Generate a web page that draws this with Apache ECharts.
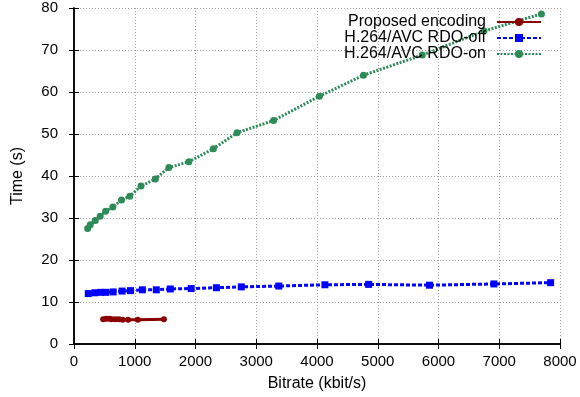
<!DOCTYPE html>
<html>
<head>
<meta charset="utf-8">
<script src="https://cdn.jsdelivr.net/npm/echarts@6/dist/echarts.min.js"></script>
<style>
  html, body { margin: 0; padding: 0; background: #fff; }
  #chart { width: 580px; height: 397px; }
</style>
</head>
<body>
<div id="chart"></div>
<script>
// Proposed encoding
const proposedX = [480, 530, 580, 620, 680, 740, 800, 890, 1050, 1480];
const proposedY = [5.9, 6.0, 6.0, 5.9, 5.9, 5.9, 5.8, 5.8, 5.8, 5.9];
// H.264/AVC RDO-off
const rdoOffX = [235, 344, 437, 524, 645, 792, 929, 1125, 1355, 1585, 1929, 2344, 2754, 3371, 4130, 4850, 5852, 6912, 7846];
const rdoOffY = [12.0, 12.2, 12.3, 12.3, 12.4, 12.6, 12.7, 12.9, 12.9, 13.1, 13.2, 13.4, 13.6, 13.8, 14.1, 14.2, 14.0, 14.3, 14.6];
// H.264/AVC RDO-on
const rdoOnX = [225, 267, 349, 431, 520, 639, 782, 918, 1103, 1339, 1562, 1890, 2295, 2683, 3285, 4040, 4765, 5732, 6749, 7694];
const rdoOnY = [27.5, 28.4, 29.4, 30.4, 31.6, 32.6, 34.3, 35.2, 37.6, 39.3, 42.0, 43.4, 46.5, 50.3, 53.2, 59.0, 64.0, 68.8, 74.5, 78.6];

const xTicks = { min: 0, max: 8000, step: 1000 };
const yTicks = { min: 0, max: 80, step: 10 };

const pairs = (xs, ys) => xs.map((x, i) => [x, ys[i]]);
const font = "Liberation Sans, Arial, sans-serif";

const chart = echarts.init(document.getElementById("chart"));
const gridLine = { show: true, lineStyle: { color: "#a0a0a0", type: [1, 2], width: 1 } };
const tickIn = { show: true, inside: true, length: 5, lineStyle: { color: "#000" } };

chart.setOption({
  animation: false,
  grid: { left: 74, right: 20, top: 8, bottom: 50 },
  legend: {
    right: 33,
    top: 9,
    orient: "vertical",
    align: "right",
    itemWidth: 44,
    itemHeight: 10,
    itemGap: 0,
    textStyle: { fontFamily: font, fontSize: 16, color: "#000", padding: [0, 6, 0, 0] },
    data: ["Proposed encoding", "H.264/AVC RDO-off", "H.264/AVC RDO-on"]
  },
  xAxis: [
    {
      type: "value",
      min: xTicks.min, max: xTicks.max, interval: xTicks.step,
      name: "Bitrate (kbit/s)",
      nameLocation: "middle",
      nameGap: 32,
      nameTextStyle: { fontFamily: font, fontSize: 16, color: "#000" },
      axisLine: { show: true, lineStyle: { color: "#000", width: 1.5 } },
      axisTick: tickIn,
      axisLabel: { fontFamily: font, fontSize: 15, color: "#000", margin: 10, formatter: v => String(v) },
      splitLine: gridLine
    },
    {
      type: "value", position: "top",
      min: xTicks.min, max: xTicks.max, interval: xTicks.step,
      axisLine: { show: true, lineStyle: { color: "#000", width: 1.5 } },
      axisTick: tickIn,
      axisLabel: { show: false },
      splitLine: { show: false }
    }
  ],
  yAxis: [
    {
      type: "value",
      min: yTicks.min, max: yTicks.max, interval: yTicks.step,
      name: "Time (s)",
      nameLocation: "middle",
      nameGap: 48,
      nameTextStyle: { fontFamily: font, fontSize: 16, color: "#000" },
      axisLine: { show: true, lineStyle: { color: "#000", width: 1.5 } },
      axisTick: tickIn,
      axisLabel: { fontFamily: font, fontSize: 15, color: "#000", margin: 16 },
      splitLine: gridLine
    },
    {
      type: "value", position: "right",
      min: yTicks.min, max: yTicks.max, interval: yTicks.step,
      axisLine: { show: true, lineStyle: { color: "#000", width: 1.5 } },
      axisTick: tickIn,
      axisLabel: { show: false },
      splitLine: { show: false }
    }
  ],
  series: [
    {
      name: "Proposed encoding",
      type: "line",
      data: pairs(proposedX, proposedY),
      symbol: "circle",
      symbolSize: 6,
      lineStyle: { width: 3, color: "#8b0000" },
      itemStyle: { color: "#8b0000" }
    },
    {
      name: "H.264/AVC RDO-off",
      type: "line",
      data: pairs(rdoOffX, rdoOffY),
      symbol: "rect",
      symbolSize: 7,
      lineStyle: { width: 3, color: "#0000ff", type: [4, 2] },
      itemStyle: { color: "#0000ff" }
    },
    {
      name: "H.264/AVC RDO-on",
      type: "line",
      data: pairs(rdoOnX, rdoOnY),
      symbol: "circle",
      symbolSize: 7,
      lineStyle: { width: 3, color: "#2e8b57", type: [2, 1.5] },
      itemStyle: { color: "#2e8b57" }
    }
  ]
});
</script>
</body>
</html>
